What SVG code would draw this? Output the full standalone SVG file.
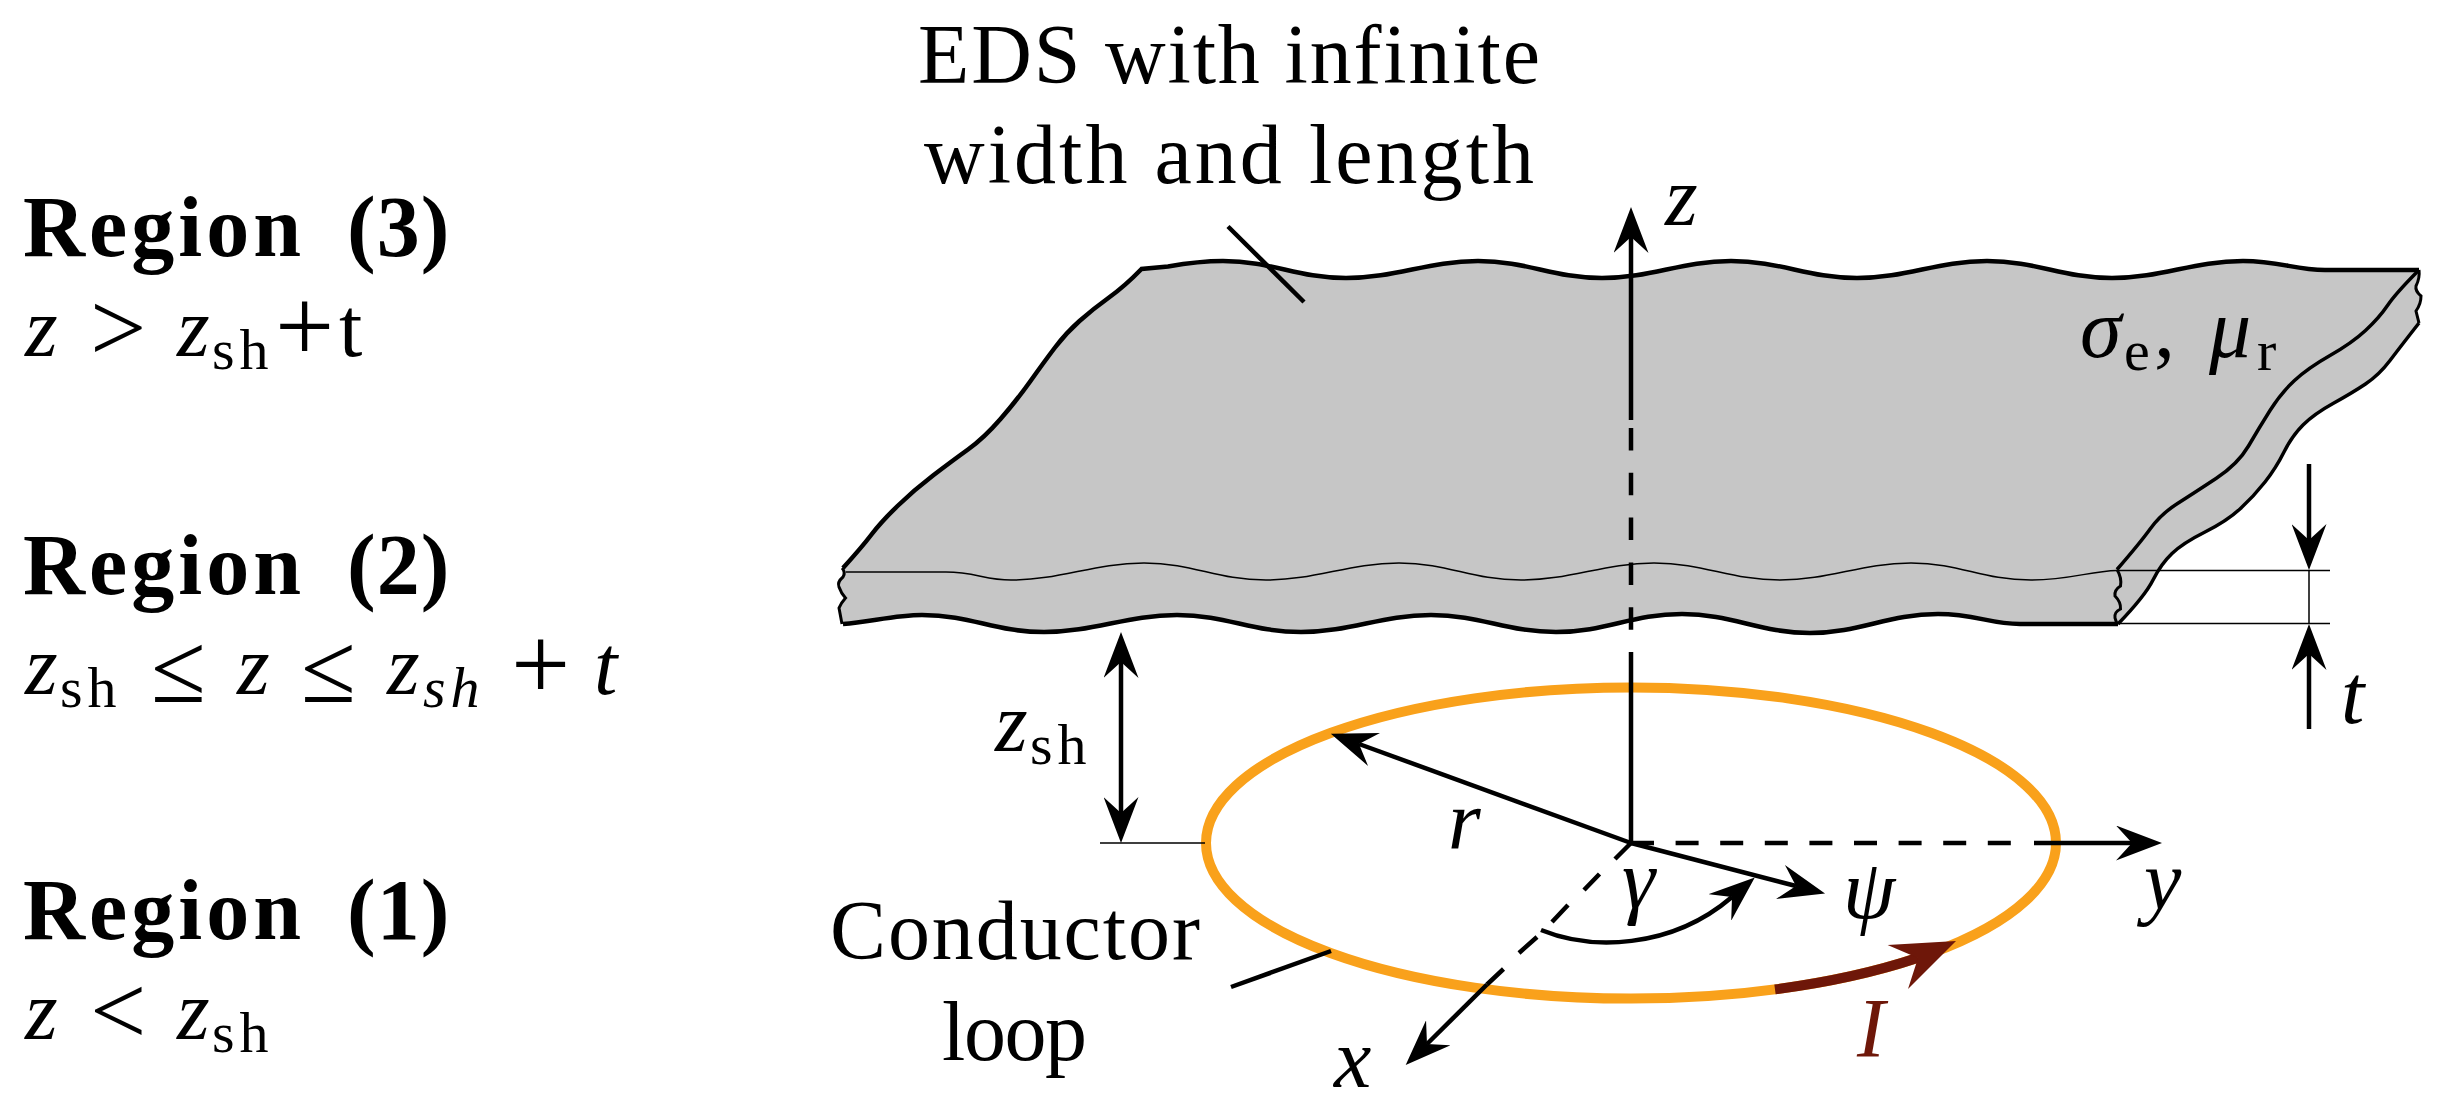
<svg xmlns="http://www.w3.org/2000/svg" width="2455" height="1117" viewBox="0 0 2455 1117">
<style>
text{font-family:"Liberation Serif","Times New Roman",serif;font-size:84px;fill:#000}
.i{font-style:italic}
.b{font-weight:bold;font-size:86px}
.s{font-size:58px}
.r{font-size:100px}
.p{font-size:105px}
.ln{fill:none;stroke:#000;stroke-width:4.5}
.thin{fill:none;stroke:#000;stroke-width:1.5}
</style>
<defs>
<marker id="ah" markerUnits="userSpaceOnUse" viewBox="0 0 46 35" markerWidth="46" markerHeight="35" refX="16" refY="17.5" orient="auto-start-reverse"><path d="M46,17.5 L0,0 L16,17.5 L0,35 Z" fill="#000"/></marker>
</defs>
<rect width="2455" height="1117" fill="#fff"/>
<g id="sheet">
<path fill="#c6c6c6" d="M1141.5,269 L1168,266.5 C1185,263.5 1200,261 1223,261 C1273,261 1296,278 1346,278 C1396,278 1428,261 1478,261 C1528,261 1552,278 1602,278 C1652,278 1681,261 1731,261 C1781,261 1807,278 1857,278 C1907,278 1937,261 1987,261 C2037,261 2062,278 2112,278 C2162,278 2193,261 2243,261 C2280,261 2295,270 2325,270 L2419,270 L2416,286 L2421,296 L2416,311 L2419,323 Q2401,346 2390,360.5 Q2379,375 2365.5,384 Q2352,393 2333,403.5 Q2314,414 2303,425 Q2292,436 2284,452 Q2276,468 2265,482 Q2254,496 2240.5,508.5 Q2227,521 2205,532 Q2183,543 2172,553.5 Q2161,564 2153,580 Q2145,596 2118,624 L2020,624 C1990,624 1975,614 1938,614 C1888,614 1860,633 1810,633 C1760,633 1732,614 1682,614 C1632,614 1606,632 1556,632 C1506,632 1481,615 1431,615 C1381,615 1351,632 1301,632 C1251,632 1227,615 1177,615 C1127,615 1094,632 1044,632 C994,632 972,615 922,615 C895,615 870,622 843,624 L839,608 L845.5,598 L839,587 L843,577 L842,568 Q862,547 871.5,534.5 Q881,522 897.5,506 Q914,490 933,475.5 Q952,461 968,449.5 Q984,438 1000.5,419 Q1017,400 1030.5,381 Q1044,362 1055,347.5 Q1066,333 1079.5,321 Q1093,309 1109,297.5 Q1125,286 1141.5,269 Z"/>
<path class="ln" d="M843,568 Q862,547 871.5,534.5 Q881,522 897.5,506 Q914,490 933,475.5 Q952,461 968,449.5 Q984,438 1000.5,419 Q1017,400 1030.5,381 Q1044,362 1055,347.5 Q1066,333 1079.5,321 Q1093,309 1109,297.5 Q1125,286 1141.5,269 L1168,266.5 C1185,263.5 1200,261 1223,261 C1273,261 1296,278 1346,278 C1396,278 1428,261 1478,261 C1528,261 1552,278 1602,278 C1652,278 1681,261 1731,261 C1781,261 1807,278 1857,278 C1907,278 1937,261 1987,261 C2037,261 2062,278 2112,278 C2162,278 2193,261 2243,261 C2280,261 2295,270 2325,270 L2419,270"/>
<path class="ln" d="M843,624 C870,622 895,615 922,615 C972,615 994,632 1044,632 C1094,632 1127,615 1177,615 C1227,615 1251,632 1301,632 C1351,632 1381,615 1431,615 C1481,615 1506,632 1556,632 C1606,632 1632,614 1682,614 C1732,614 1760,633 1810,633 C1860,633 1888,614 1938,614 C1975,614 1990,624 2020,624 L2118,624"/>
<path class="ln" style="stroke-width:3" d="M842,568 Q846,572 843,577 Q837,582 839,587 Q841,593 845.5,598 Q841,603 839,608 L842,624"/>
<path class="ln" style="stroke-width:3" d="M2117,569.5 Q2122,578 2120.5,586 Q2114,590 2115,596 Q2121,602 2120.5,609 Q2114,612 2115,618 L2117,624"/>
<path class="ln" style="stroke-width:3" d="M2419,270 Q2420,278 2416,286 Q2415,291 2421,296 Q2421,304 2416,311 L2419,323"/>
<path class="ln" style="stroke-width:3.5" d="M2419,270 Q2396,293 2387.5,305.5 Q2379,318 2365.5,330.5 Q2352,343 2330,355.5 Q2308,368 2294.5,380.5 Q2281,393 2270,410.5 Q2259,428 2248.5,446 Q2238,464 2216,478.5 Q2194,493 2177.5,503.5 Q2161,514 2150.5,528.5 Q2140,543 2117,569.5"/>
<path class="ln" style="stroke-width:3.5" d="M2419,323 Q2401,346 2390,360.5 Q2379,375 2365.5,384 Q2352,393 2333,403.5 Q2314,414 2303,425 Q2292,436 2284,452 Q2276,468 2265,482 Q2254,496 2240.5,508.5 Q2227,521 2205,532 Q2183,543 2172,553.5 Q2161,564 2153,580 Q2145,596 2118,624"/>
<path class="thin" d="M846,572 L946,572 C975,572 985,580 1011,580 C1061,580 1094,563 1144,563 C1194,563 1216,580 1266,580 C1316,580 1349,563 1399,563 C1449,563 1471,580 1521,580 C1571,580 1604,563 1654,563 C1704,563 1730,580 1780,580 C1830,580 1861,563 1911,563 C1961,563 1981,580 2031,580 C2070,580 2090,571 2117,570.5"/>
</g>
<g id="loop">
<ellipse cx="1631" cy="843" rx="425" ry="155.6" fill="none" stroke="#f9a11b" stroke-width="10"/>
<path d="M1775,989.4 A425,155.6 0 0 0 1918,957.8" fill="none" stroke="#6e1709" stroke-width="10"/>
<polygon points="1956,941 1887.6,945 1918,958 1908,989" fill="#6e1709"/>
</g>
<g id="connectors">
<path class="ln" d="M1228,226.5 L1304,302"/>
<path class="ln" d="M1231,987 L1331,951"/>
<path class="thin" d="M2118,570.6 H2330 M2118,623.5 H2330 M2309,570.6 V623.5 M1100,843 H1205"/>
<path class="ln" marker-end="url(#ah)" d="M1631,420 V237"/>
<path class="ln" d="M1631,428 V630" stroke-dasharray="22.5 22.3"/>
<path class="ln" d="M1631,652 V843"/>
<path class="ln" marker-start="url(#ah)" marker-end="url(#ah)" d="M1121,662 V813"/>
<path class="ln" marker-end="url(#ah)" d="M2309,464 V540"/>
<path class="ln" marker-end="url(#ah)" d="M2309,729 V654"/>
<path class="ln" marker-end="url(#ah)" d="M1631,843 L1359,744"/>
<path class="ln" marker-end="url(#ah)" d="M1631,843 L1796,886"/>
<path class="ln" d="M1631,843 L1615,859 M1599.5,874 L1584,890 M1568,905 L1552,922 M1537,937 L1519,953 M1503.5,969 L1487,984.5"/>
<path class="ln" marker-end="url(#ah)" d="M1487,984.5 L1427,1044"/>
<path class="ln" d="M1631,843 H2012" stroke-dasharray="23 21.6"/>
<path class="ln" marker-end="url(#ah)" d="M2034,843 H2132"/>
<path class="ln" marker-end="url(#ah)" d="M1541,930 C1590,950 1670,950 1732,897"/>
</g>
<g id="label-eds">
<text x="918" y="83" textLength="622">EDS with infinite</text>
<text x="924" y="183" textLength="610">width and length</text>
</g>
<g id="label-material"><text y="357"><tspan class="i" x="2080">σ</tspan><tspan class="s" x="2124" y="370">e</tspan><tspan x="2154" y="357">, </tspan><tspan class="i" x="2209">μ</tspan><tspan class="s" x="2257" y="370">r</tspan></text></g>
<g id="label-conductor">
<text x="830" y="959" textLength="370">Conductor</text>
<text x="942" y="1060" textLength="145">loop</text>
</g>
<g id="axis-labels">
<text class="i" x="1665" y="225">z</text>
<text class="i" x="2341" y="723">t</text>
<text class="i" x="1448" y="849">r</text>
<text class="i" x="1334" y="1087">x</text>
<text class="i" x="2144" y="909">y</text>
<text class="i" x="1622" y="908">γ</text>
<text class="i" x="1843" y="918">ψ</text>
<text class="i" x="1857" y="1057" style="fill:#6e1709">I</text>
<text y="751"><tspan class="i" x="995">z</tspan><tspan class="s" x="1030" y="764" letter-spacing="5">sh</tspan></text>
</g>
<g id="region-3">
<text class="b" y="256"><tspan x="23" letter-spacing="4">Region </tspan><tspan x="347" letter-spacing="1">(3)</tspan></text>
<text y="356"><tspan class="i" x="25">z </tspan><tspan class="r" x="90" y="361">&gt; </tspan><tspan class="i" x="177" y="356">z</tspan><tspan class="s" x="212" y="369" letter-spacing="5">sh</tspan><tspan class="p" x="275" y="362">+</tspan><tspan x="339" y="356">t</tspan></text>
</g>
<g id="region-2">
<text class="b" y="594"><tspan x="23" letter-spacing="4">Region </tspan><tspan x="347" letter-spacing="1">(2)</tspan></text>
<text y="694"><tspan class="i" x="25">z</tspan><tspan class="s" x="60" y="707" letter-spacing="5">sh </tspan><tspan class="r" x="151" y="702">≤ </tspan><tspan class="i" x="237" y="694">z </tspan><tspan class="r" x="301" y="702">≤ </tspan><tspan class="i" x="387" y="694">z</tspan><tspan class="s i" x="423" y="707" letter-spacing="5">sh </tspan><tspan class="p" x="511" y="700">+ </tspan><tspan class="i" x="594" y="694">t</tspan></text>
</g>
<g id="region-1">
<text class="b" y="939"><tspan x="23" letter-spacing="4">Region </tspan><tspan x="347" letter-spacing="1">(1)</tspan></text>
<text y="1039"><tspan class="i" x="25">z </tspan><tspan class="r" x="90" y="1044">&lt; </tspan><tspan class="i" x="177" y="1039">z</tspan><tspan class="s" x="212" y="1052" letter-spacing="5">sh</tspan></text>
</g>
</svg>
